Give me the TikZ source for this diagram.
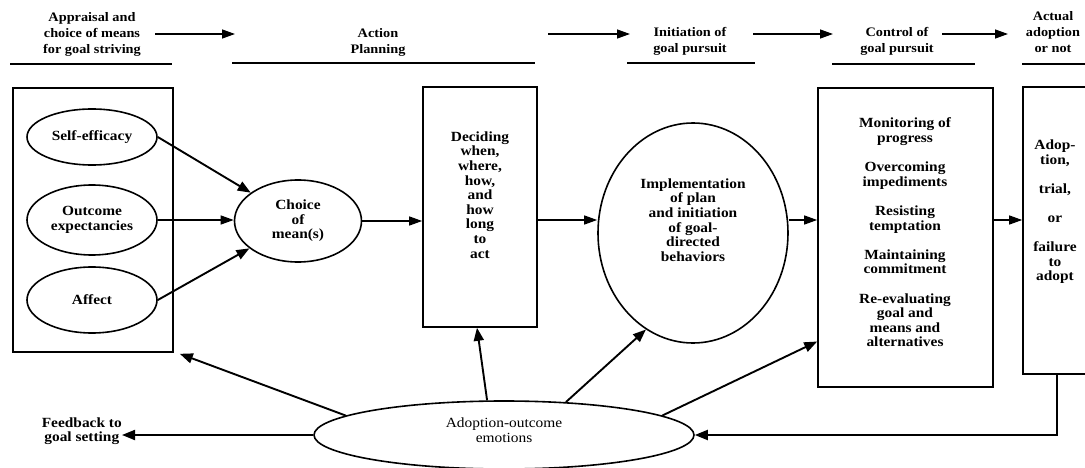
\documentclass[tikz,border=0pt]{standalone}
\usepackage{fontspec}
\setmainfont{Liberation Serif}[FakeStretch=1.1]
\usetikzlibrary{shapes.geometric,arrows.meta,calc}
\begin{document}
\begin{tikzpicture}[x=1pt,y=-1pt,
  every node/.style={align=center,inner sep=0pt},
  body/.style={font=\bfseries\fontsize{14}{14.6}\selectfont},
  head/.style={font=\bfseries\fontsize{13}{16}\selectfont},
  oval/.style={draw,ellipse,line width=1.6pt,body},
  boxnode/.style={draw,rectangle,line width=1.6pt},
  conn/.style={line width=1.9pt,-{Triangle[length=13pt,width=10pt]}},
  thinconn/.style={line width=1.3pt,-{Triangle[length=13pt,width=9pt]}},
  rule/.style={line width=1.4pt}]
\useasboundingbox (0,0) rectangle (1085,468);

% ---- headers ----
\node[head] (h1) at (92,34) {Appraisal and\\choice of means\\for goal striving};
\node[head] (h2) at (378,42) {Action\\Planning};
\node[head] (h3) at (690,41) {Initiation of\\goal pursuit};
\node[head] (h4) at (897,41) {Control of\\goal pursuit};
\node[head] (h5) at (1053,32) {Actual\\adoption\\or not};
\coordinate (a1s) at (155,34); \coordinate (a1e) at (235,34);
\coordinate (a2s) at (548,34); \coordinate (a2e) at (630,34);
\coordinate (a3s) at (753,34); \coordinate (a3e) at (833,34);
\coordinate (a4s) at (942,34); \coordinate (a4e) at (1008,34);
\draw[thinconn] (a1s) -- (a1e);
\draw[thinconn] (a2s) -- (a2e);
\draw[thinconn] (a3s) -- (a3e);
\draw[thinconn] (a4s) -- (a4e);
\draw[rule] (10,64) -- (172,64);
\draw[rule] (232,63) -- (535,63);
\draw[rule] (627,63) -- (755,63);
\draw[rule] (832,64) -- (975,64);
\draw[rule] (1022,64) -- (1085,64);

% ---- boxes and ovals ----
\node[boxnode,minimum width=160pt,minimum height=264pt] (left) at (93,220) {};
\node[oval,minimum width=130pt,minimum height=56pt] (se) at (92,137) {Self-efficacy};
\node[oval,minimum width=130pt,minimum height=70pt] (oe) at (92,220) {Outcome\\expectancies};
\node[oval,minimum width=130pt,minimum height=66pt] (af) at (92,300) {Affect};
\node[oval,minimum width=127pt,minimum height=82pt] (choice) at (298,221) {Choice\\of\\mean(s)};

\node[boxnode,minimum width=114pt,minimum height=240pt] (decide) at (480,207) {};
\node[body] (decidetxt) at (480,195) {Deciding\\when,\\where,\\how,\\and\\how\\long\\to\\act};

\node[oval,minimum width=190pt,minimum height=220pt] (impl) at (693,233) {};
\node[body] (impltxt) at (693,220) {Implementation\\of plan\\and initiation\\of goal-\\directed\\behaviors};

\node[boxnode,minimum width=175pt,minimum height=299pt] (ctrl) at (905.5,237.5) {};
\node[body] (ctrltxt) at (905,232.5) {Monitoring of\\progress\\[14.6pt]Overcoming\\impediments\\[14.6pt]Resisting\\temptation\\[14.6pt]Maintaining\\commitment\\[14.6pt]Re-evaluating\\goal and\\means and\\alternatives};

\node[boxnode,minimum width=72pt,minimum height=287pt] (adopt) at (1059,230.5) {};
\node[body] (adopttxt) at (1055,212) {Adop-\\tion,\\[14.4pt]trial,\\[14.4pt]or\\[14.4pt]failure\\to\\adopt};

\node[draw,ellipse,line width=1.6pt,minimum width=380pt,minimum height=68pt] (emo) at (504,435) {};
\node[font=\fontsize{14}{14.6}\selectfont] (emotxt) at (504,430) {Adoption-outcome\\emotions};

\node[body,anchor=east] (fb) at (122,431) {Feedback to\\goal setting};

% ---- connectors ----
\coordinate (midline) at (0,220);
\coordinate (corner) at (1057,435);
\draw[conn] (se.east) -- (choice);
\draw[thinconn] (oe.east) -- (choice.west |- oe.east);
\draw[conn] (af.east) -- (choice);
\draw[thinconn] (choice.east) -- (choice.east -| decide.west);
\draw[thinconn] (decide.east |- midline) -- (impl.west |- midline);
\draw[thinconn] (impl.east |- midline) -- (ctrl.west |- midline);
\draw[thinconn] (ctrl.east |- midline) -- (adopt.west |- midline);
\draw[conn] (corner |- adopt.south) -- (corner) -- (emo.east);
\draw[conn] (emo.west) -- (fb.east |- emo.west);
\draw[conn] (emo.173.7) -- ([xshift=6pt,yshift=-1pt]left.south east);
\draw[conn] (emo.116) -- ([xshift=-3pt]decide.south);
\draw[conn] (emo.28.7) -- (impl.244);
\draw[conn] (emo.7.5) -- ([yshift=-104pt]ctrl.west);
\end{tikzpicture}
\end{document}
